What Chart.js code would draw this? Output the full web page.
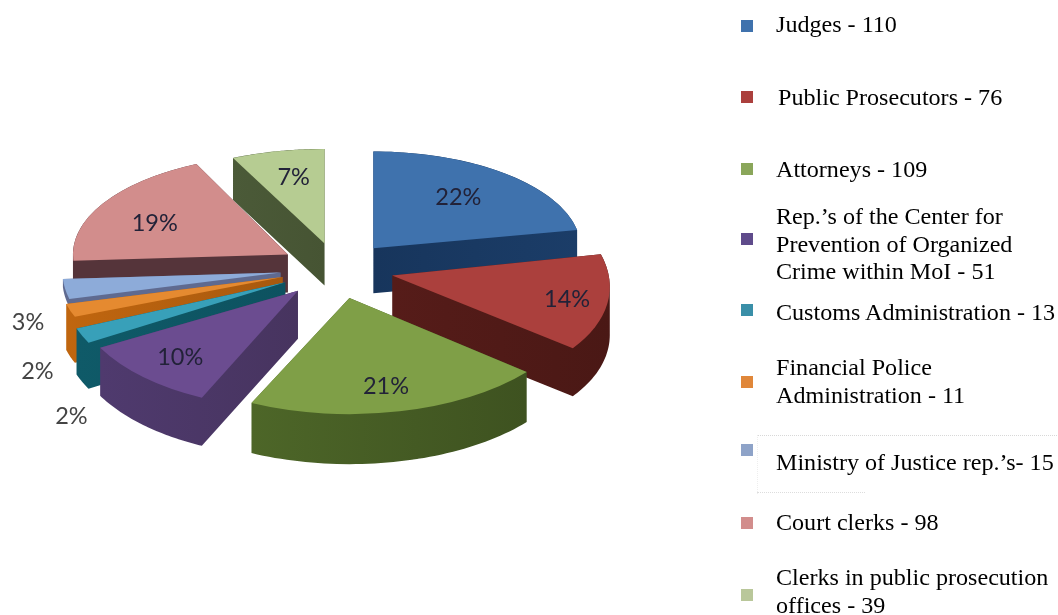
<!DOCTYPE html>
<html>
<head>
<meta charset="utf-8">
<title>Training participants</title>
<script src="https://cdn.jsdelivr.net/npm/chart.js@4"></script>
<style>
    html, body { margin: 0; padding: 0; background: #fff; }
    #wrap { position: relative; width: 1058px; height: 615px; overflow: hidden; }
    #pieChart { position: absolute; left: 0; top: 0; }
    .swatch { position: absolute; left: 741px; width: 12px; height: 12px; }
    .entry { position: absolute; left: 776px; font: 24.1px/27.6px "Liberation Serif", serif; color: #000; white-space: nowrap; }
    #textbox { position: absolute; left: 757px; top: 435px; width: 301px; height: 58px; border-top: 1px dotted #d8d8d8; border-left: 1px dotted #eee; }
    #textboxEnd { position: absolute; left: 757px; top: 492px; width: 108px; border-top: 1px dotted #ddd; }
</style>
</head>
<body>
<div id="wrap">
    <canvas id="pieChart" width="1058" height="615"></canvas>
    <div id="textbox"></div>
    <div id="textboxEnd"></div>
    <div id="legend"></div>
</div>
<script>
// values
const categories = ['Judges', 'Public Prosecutors', 'Attorneys', 'Rep.\u2019s of the Center for Prevention of Organized Crime within MoI',
    'Customs Administration', 'Financial Police Administration', 'Ministry of Justice rep.\u2019s', 'Court clerks', 'Clerks in public prosecution offices'];
const percents = [22, 14, 21, 10, 2, 2, 3, 19, 7];
const legendLines = [
    ['Judges - 110'],
    ['Public Prosecutors - 76'],
    ['Attorneys - 109'],
    ['Rep.\u2019s of the Center for', 'Prevention of Organized', 'Crime within MoI - 51'],
    ['Customs Administration - 13'],
    ['Financial Police', 'Administration - 11'],
    ['Ministry of Justice rep.\u2019s- 15'],
    ['Court clerks - 98'],
    ['Clerks in public prosecution', 'offices - 39']
];

// colours
const topColors = ['#3f72ad', '#ab403d', '#7f9f47', '#6b4c90', '#38a0b9', '#e58a30', '#8dabd9', '#d28d8c', '#b6cc92'];
const wallColors = ['#17355c', '#561c19', '#4d6628', '#4f3a6e', '#0f5a68', '#c0660f', '#5f6a90', '#55343a', '#4b5a38'];
const wallFade = ['#1b3d68', '#4a1815', '#3e5220', '#47345f', '#0d5260', '#a8590e', '#5f6a90', '#55343a', '#465433'];
const swatchColors = ['#3f72ad', '#ab403d', '#8aa65a', '#5f4b8b', '#3a8fa8', '#e0873a', '#8ea3c8', '#d28d8c', '#b9c79a'];

// legend placement
const swatchMid = [26, 97, 169, 239, 310, 382, 450, 523, 595];
const entryTop = [11, 84, 156, 203, 299, 354, 449, 509, 564];
const entryLeft = [776, 778, 776, 776, 776, 776, 776, 776, 776];

// 3D look, one entry per slice
const explode = 57;
const squash = [0.45, 0.53, 0.54, 0.55, 0.585, 0.505, 0.496, 0.465, 0.44];
const widen = [0.965, 1.007, 1.07, 1.05, 1.045, 1.04, 1.015, 1, 1];
const shear = [0, 0.19, 0, 0, 0, 0, 0, 0, 0];
const depth = [45, 48, 50, 48, 46, 46, 8, 38, 42];
const labelReach = [0.62, 0.84, 0.78, 0.8, 1.1, 1.2, 1.19, 0.72, 0.66];
const labelDrop = [-5, 0, 0, -2, 75, 54, 30, 6, -5];

function slicePath(ctx, s, yShift) {
    ctx.save();
    ctx.translate(s.ax, s.ay + yShift);
    ctx.transform(widen[s.i], 0, shear[s.i] * s.k, s.k, 0, 0);
    ctx.moveTo(0, 0);
    ctx.arc(0, 0, s.arc.outerRadius, s.arc.startAngle, s.arc.endAngle);
    ctx.closePath();
    ctx.restore();
}

function outlinePoints(s) {
    const r = s.arc.outerRadius;
    const pts = [[s.ax, s.ay]];
    for (let n = 0; n <= 48; n++) {
        const a = s.arc.startAngle + (s.arc.endAngle - s.arc.startAngle) * n / 48;
        const y = Math.sin(a) * r * s.k;
        pts.push([s.ax + Math.cos(a) * r * widen[s.i] + shear[s.i] * y, s.ay + y]);
    }
    pts.push([s.ax, s.ay]);
    return pts;
}

// one path, every part wound clockwise, so the wall fills without seams
function wallPath(ctx, s, d) {
    ctx.beginPath();
    slicePath(ctx, s, 0);
    slicePath(ctx, s, d);
    const pts = outlinePoints(s);
    for (let n = 0; n < pts.length - 1; n++) {
        const l = pts[n][0] <= pts[n + 1][0] ? pts[n] : pts[n + 1];
        const r = pts[n][0] <= pts[n + 1][0] ? pts[n + 1] : pts[n];
        ctx.moveTo(l[0], l[1]);
        ctx.lineTo(r[0], r[1]);
        ctx.lineTo(r[0], r[1] + d);
        ctx.lineTo(l[0], l[1] + d);
        ctx.closePath();
    }
}

// draws the pie's arc elements as tilted, pulled apart, extruded slices
const tiltedPie = {
    id: 'tiltedPie',
    beforeDatasetsDraw(chart) {
        const ctx = chart.ctx;
        const arcs = chart.getDatasetMeta(0).data;
        const slices = arcs.map((arc, i) => {
            const mid = (arc.startAngle + arc.endAngle) / 2;
            const k = squash[i];
            return {
                arc, i, mid, k,
                ax: arc.x + Math.cos(mid) * explode,
                ay: arc.y + Math.sin(mid) * explode * k
            };
        });
        slices.slice().sort((a, b) => a.ay - b.ay).forEach(s => {
            const xs = outlinePoints(s).map(p => p[0]);
            const grad = ctx.createLinearGradient(Math.min(...xs), 0, Math.max(...xs), 0);
            grad.addColorStop(0, wallColors[s.i]);
            grad.addColorStop(1, wallFade[s.i]);
            wallPath(ctx, s, depth[s.i]);
            ctx.fillStyle = grad;
            ctx.fill();
            ctx.beginPath();
            slicePath(ctx, s, 0);
            ctx.fillStyle = topColors[s.i];
            ctx.fill();
        });
        ctx.font = '23.5px Lato, sans-serif';
        ctx.textAlign = 'center';
        ctx.textBaseline = 'middle';
        slices.forEach(s => {
            const reach = labelReach[s.i] * s.arc.outerRadius;
            ctx.fillStyle = labelReach[s.i] > 1 ? '#444' : '#222238';
            ctx.fillText(percents[s.i] + '%',
                s.ax + Math.cos(s.mid) * reach,
                s.ay + Math.sin(s.mid) * reach * s.k + labelDrop[s.i]);
        });
        return false;
    }
};

new Chart(document.getElementById('pieChart').getContext('2d'), {
    type: 'pie',
    data: {
        labels: categories,
        datasets: [{ data: percents, backgroundColor: topColors }]
    },
    options: {
        responsive: false,
        animation: false,
        radius: 215,
        layout: { padding: { right: 384, bottom: 79 } },
        plugins: { legend: { display: false }, tooltip: { enabled: false } }
    },
    plugins: [tiltedPie]
});

const legend = document.getElementById('legend');
legendLines.forEach((lines, i) => {
    const swatch = document.createElement('div');
    swatch.className = 'swatch';
    swatch.style.top = (swatchMid[i] - 6) + 'px';
    swatch.style.background = swatchColors[i];
    legend.appendChild(swatch);
    const entry = document.createElement('div');
    entry.className = 'entry';
    entry.style.top = entryTop[i] + 'px';
    entry.style.left = entryLeft[i] + 'px';
    entry.innerHTML = lines.join('<br>');
    legend.appendChild(entry);
});
</script>
</body>
</html>
